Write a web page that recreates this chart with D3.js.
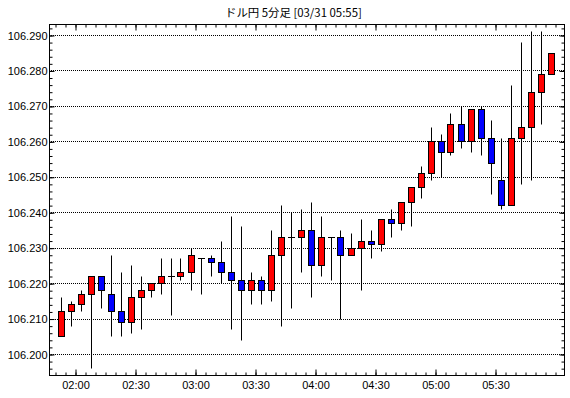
<!DOCTYPE html>
<html>
<head>
<meta charset="utf-8">
<script src="https://cdn.jsdelivr.net/npm/d3@7"></script>
<style>
  body { margin: 0; background: #fff; }
  svg { display: block; }
  .tick text { font-family: "Liberation Sans", Arial, sans-serif; font-size: 11px; fill: #000; }
</style>
</head>
<body>
<svg width="570" height="398"></svg>
<script>
// 5-minute candles, 03/31 01:50 - 05:55
const times = [
  '01:50', '01:55', '02:00', '02:05', '02:10', '02:15', '02:20', '02:25', '02:30', '02:35',
  '02:40', '02:45', '02:50', '02:55', '03:00', '03:05', '03:10', '03:15', '03:20', '03:25',
  '03:30', '03:35', '03:40', '03:45', '03:50', '03:55', '04:00', '04:05', '04:10', '04:15',
  '04:20', '04:25', '04:30', '04:35', '04:40', '04:45', '04:50', '04:55', '05:00', '05:05',
  '05:10', '05:15', '05:20', '05:25', '05:30', '05:35', '05:40', '05:45', '05:50', '05:55',
];
const open = [
  106.205, 106.212, 106.214, 106.217, 106.222, 106.217, 106.212, 106.209, 106.216, 106.218,
  106.220, 106.222, 106.222, 106.223, 106.227, 106.227, 106.226, 106.223, 106.221, 106.218,
  106.221, 106.218, 106.228, 106.233, 106.233, 106.235, 106.225, 106.233, 106.233, 106.228,
  106.230, 106.232, 106.231, 106.238, 106.237, 106.243, 106.247, 106.251, 106.260, 106.257,
  106.265, 106.260, 106.269, 106.261, 106.249, 106.242, 106.261, 106.264, 106.274, 106.279,
];
const high = [
  106.216, 106.215, 106.218, 106.222, 106.222, 106.228, 106.223, 106.225, 106.222, 106.220,
  106.227, 106.227, 106.227, 106.230, 106.227, 106.228, 106.232, 106.239, 106.236, 106.223,
  106.222, 106.235, 106.242, 106.240, 106.241, 106.243, 106.239, 106.233, 106.235, 106.234,
  106.238, 106.235, 106.238, 106.241, 106.243, 106.247, 106.253, 106.264, 106.262, 106.268,
  106.270, 106.269, 106.270, 106.266, 106.261, 106.276, 106.288, 106.291, 106.291, 106.285,
];
const low = [
  106.205, 106.208, 106.212, 106.196, 106.213, 106.205, 106.205, 106.206, 106.207, 106.216,
  106.217, 106.211, 106.221, 106.218, 106.217, 106.222, 106.220, 106.207, 106.204, 106.214,
  106.214, 106.215, 106.208, 106.213, 106.223, 106.216, 106.222, 106.221, 106.210, 106.228,
  106.218, 106.227, 106.229, 106.233, 106.235, 106.236, 106.244, 106.249, 106.250, 106.256,
  106.258, 106.257, 106.256, 106.245, 106.241, 106.242, 106.248, 106.249, 106.265, 106.279,
];
const close = [
  106.212, 106.214, 106.217, 106.222, 106.218, 106.212, 106.209, 106.216, 106.218, 106.220,
  106.222, 106.222, 106.223, 106.228, 106.227, 106.226, 106.223, 106.221, 106.218, 106.221,
  106.218, 106.228, 106.233, 106.233, 106.235, 106.225, 106.233, 106.233, 106.228, 106.230,
  106.232, 106.231, 106.238, 106.237, 106.243, 106.247, 106.251, 106.260, 106.257, 106.265,
  106.260, 106.269, 106.261, 106.254, 106.242, 106.261, 106.264, 106.274, 106.279, 106.285,
];
const priceTicks = [106.200, 106.210, 106.220, 106.230, 106.240, 106.250, 106.260, 106.270, 106.280, 106.290];
const timeTicks = ['02:00', '02:30', '03:00', '03:30', '04:00', '04:30', '05:00', '05:30'];
const title = 'ドル円 5分足 [03/31 05:55]';

const parse = d3.timeParse('%H:%M');
const candles = times.map((t, i) => ({
  t: new Date(+parse(t) + 150000), // centre of the 5 min bar
  o: open[i], h: high[i], l: low[i], c: close[i],
}));

const svg = d3.select('svg');
const plotL = 49.5, plotR = 564.5, plotT = 24.5, plotB = 375.5;

const x = d3.scaleTime()
  .domain([parse('01:47'), new Date(+parse('06:04') + 30000)])
  .range([plotL, plotR]);
const y = d3.scaleLinear()
  .domain([106.19407, 106.2931])
  .range([plotB, plotT]);
const py = (v) => Math.round(y(v) - 0.5) + 0.5;

// minor ticks
const minorTimes = d3.timeMinute.every(5).range(parse('01:50'), new Date(+parse('06:00') + 1));
const minorPrices = d3.range(106196, 106293, 2).map((d) => d / 1000);
const majorTimes = timeTicks.map(parse);

// grid (dots on whole pixels)
svg.append('g')
  .selectAll('line')
  .data(priceTicks)
  .join('line')
  .attr('x1', plotL + 1.5).attr('x2', plotR - 0.5)
  .attr('y1', (d) => py(d)).attr('y2', (d) => py(d))
  .attr('stroke', '#000')
  .attr('stroke-dasharray', '1,1')
  .attr('shape-rendering', 'crispEdges');

// candles
const g = svg.append('g');
g.selectAll('line.wick')
  .data(candles)
  .join('line')
  .attr('class', 'wick')
  .attr('x1', (d) => Math.round(x(d.t)) + 0.5)
  .attr('x2', (d) => Math.round(x(d.t)) + 0.5)
  .attr('y1', (d) => py(d.h))
  .attr('y2', (d) => py(d.l))
  .attr('stroke', '#000');

g.selectAll('rect.body')
  .data(candles.filter((d) => d.o !== d.c))
  .join('rect')
  .attr('class', 'body')
  .attr('x', (d) => Math.round(x(d.t)) - 2.5)
  .attr('width', 6)
  .attr('y', (d) => py(Math.max(d.o, d.c)))
  .attr('height', (d) => py(Math.min(d.o, d.c)) - py(Math.max(d.o, d.c)))
  .attr('fill', (d) => (d.c > d.o ? '#ff0000' : '#0000ff'))
  .attr('stroke', '#000');

// doji
g.selectAll('line.doji')
  .data(candles.filter((d) => d.o === d.c))
  .join('line')
  .attr('class', 'doji')
  .attr('x1', (d) => Math.round(x(d.t)) - 3)
  .attr('x2', (d) => Math.round(x(d.t)) + 4)
  .attr('y1', (d) => py(d.o))
  .attr('y2', (d) => py(d.o))
  .attr('stroke', '#000');

// axes
const fmt = d3.timeFormat('%H:%M');
function addAxis(axis, tx, ty) {
  const a = svg.append('g').attr('transform', `translate(${tx},${ty})`).call(axis);
  a.select('.domain').remove();
  a.selectAll('.tick line').attr('stroke', '#000');
  return a;
}
addAxis(d3.axisBottom(x).tickValues(minorTimes).tickSize(-3).tickFormat(''), 0, plotB);
addAxis(d3.axisBottom(x).tickValues(majorTimes).tickSize(-6).tickPadding(6).tickFormat(fmt), 0, plotB);
addAxis(d3.axisTop(x).tickValues(minorTimes).tickSize(-3).tickFormat(''), 0, plotT);
addAxis(d3.axisTop(x).tickValues(majorTimes).tickSize(-6).tickFormat(''), 0, plotT);

const yAxisTicks = (axis) => axis.tickValues(minorPrices).tickFormat('');
addAxis(yAxisTicks(d3.axisLeft(y)).tickSize(-3), plotL, 0);
addAxis(d3.axisLeft(y).tickValues(priceTicks).tickSize(-5).tickPadding(2).tickFormat(d3.format('.3f')), plotL, 0);
addAxis(yAxisTicks(d3.axisRight(y)).tickSize(-3), plotR, 0);
addAxis(d3.axisRight(y).tickValues(priceTicks).tickSize(-5).tickFormat(''), plotR, 0);

// frame
svg.append('rect')
  .attr('x', plotL).attr('y', plotT)
  .attr('width', plotR - plotL).attr('height', plotB - plotT)
  .attr('fill', 'none')
  .attr('stroke', '#000');

svg.append('text')
  .attr('x', 225)
  .attr('y', 17)
  .attr('font-family', '"Noto Sans CJK JP", sans-serif')
  .attr('font-size', 11.4)
  .text(title);
</script>
</body>
</html>
